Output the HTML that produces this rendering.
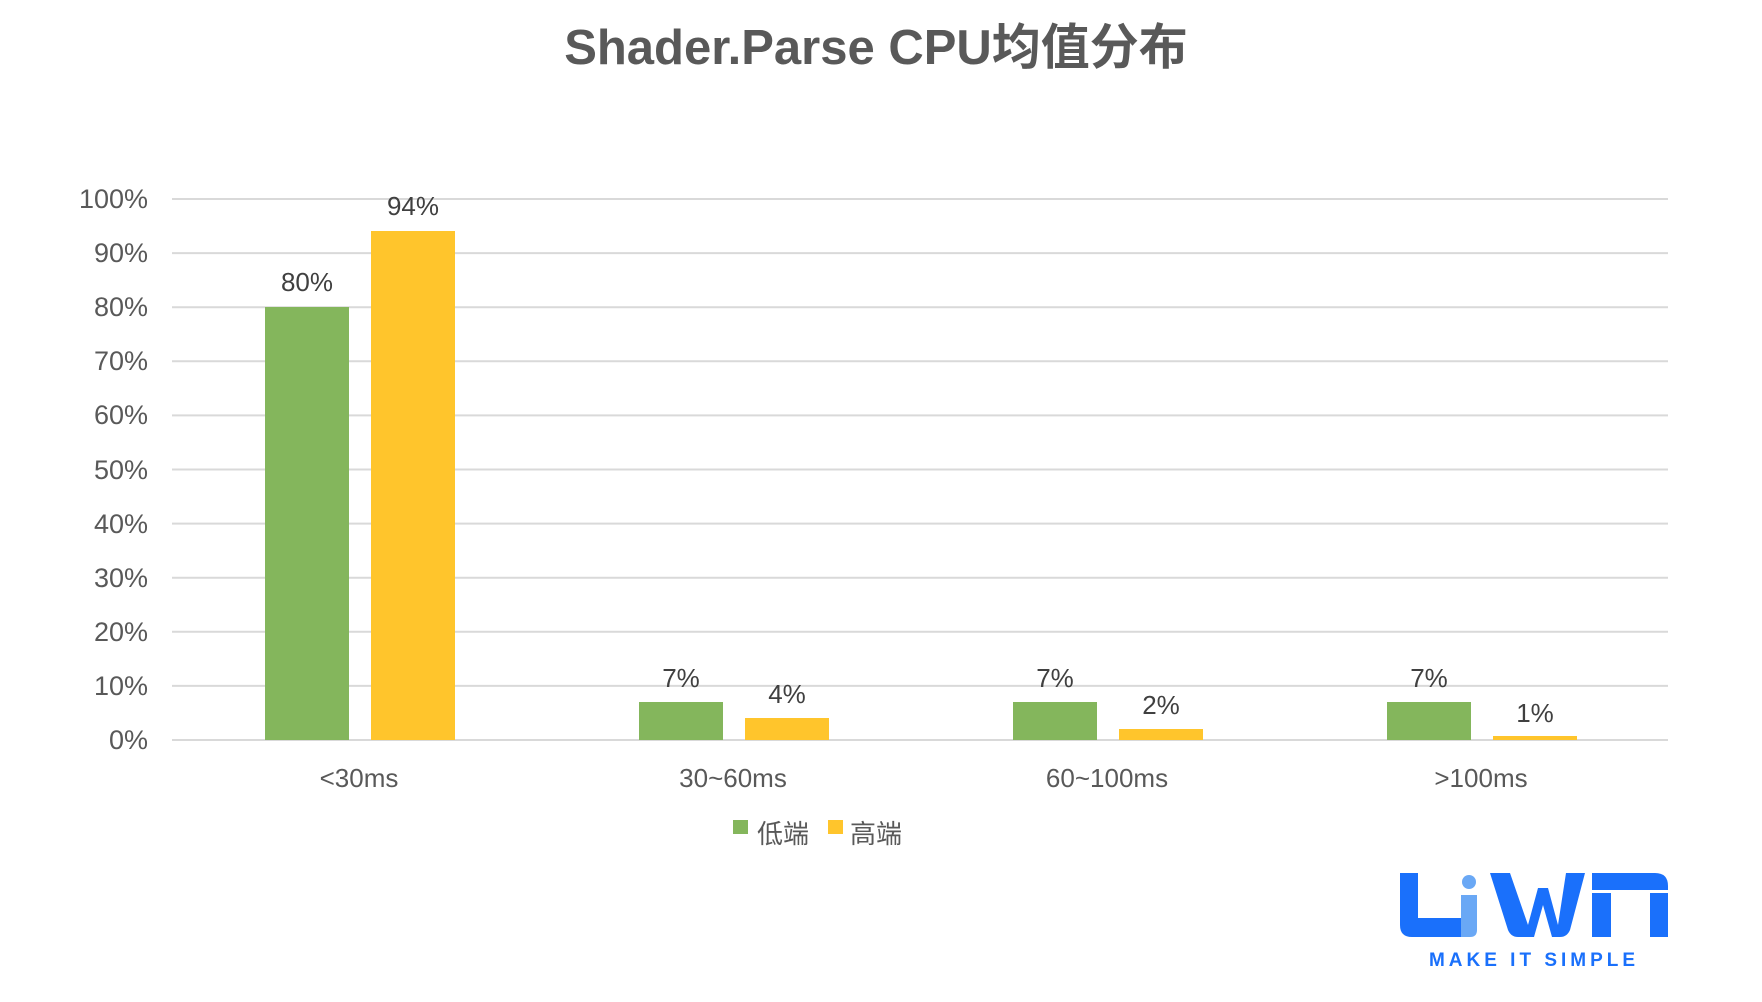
<!DOCTYPE html>
<html><head><meta charset="utf-8"><style>
html,body{margin:0;padding:0;background:#fff;}
svg{display:block;}
text{font-family:"Liberation Sans","Noto Sans CJK SC",sans-serif;}
</style></head><body>
<svg width="1762" height="1002" viewBox="0 0 1762 1002" xmlns="http://www.w3.org/2000/svg">
<rect width="1762" height="1002" fill="#fff"/>
<text x="876" y="64" text-anchor="middle" font-size="49" font-weight="bold" fill="#595959">Shader.Parse CPU均值分布</text>
<g stroke="#d9d9d9" stroke-width="2">
<line x1="172" x2="1668" y1="199" y2="199"/>
<line x1="172" x2="1668" y1="253.1" y2="253.1"/>
<line x1="172" x2="1668" y1="307.2" y2="307.2"/>
<line x1="172" x2="1668" y1="361.3" y2="361.3"/>
<line x1="172" x2="1668" y1="415.4" y2="415.4"/>
<line x1="172" x2="1668" y1="469.5" y2="469.5"/>
<line x1="172" x2="1668" y1="523.6" y2="523.6"/>
<line x1="172" x2="1668" y1="577.7" y2="577.7"/>
<line x1="172" x2="1668" y1="631.8" y2="631.8"/>
<line x1="172" x2="1668" y1="685.9" y2="685.9"/>
<line x1="172" x2="1668" y1="740" y2="740"/>
</g>
<g font-size="27" fill="#595959" text-anchor="end">
<text x="148" y="208">100%</text>
<text x="148" y="262">90%</text>
<text x="148" y="316">80%</text>
<text x="148" y="370">70%</text>
<text x="148" y="424">60%</text>
<text x="148" y="479">50%</text>
<text x="148" y="533">40%</text>
<text x="148" y="587">30%</text>
<text x="148" y="641">20%</text>
<text x="148" y="695">10%</text>
<text x="148" y="749">0%</text>
</g>
<g fill="#84b65c">
<rect x="265" y="307" width="84" height="433"/>
<rect x="639" y="702" width="84" height="38"/>
<rect x="1013" y="702" width="84" height="38"/>
<rect x="1387" y="702" width="84" height="38"/>
</g>
<g fill="#ffc52c">
<rect x="371" y="231" width="84" height="509"/>
<rect x="745" y="718" width="84" height="22"/>
<rect x="1119" y="729" width="84" height="11"/>
<rect x="1493" y="736" width="84" height="4"/>
</g>
<g font-size="26" fill="#404040" text-anchor="middle">
<text x="307" y="291">80%</text>
<text x="413" y="215">94%</text>
<text x="681" y="687">7%</text>
<text x="787" y="703">4%</text>
<text x="1055" y="687">7%</text>
<text x="1161" y="714">2%</text>
<text x="1429" y="687">7%</text>
<text x="1535" y="722">1%</text>
</g>
<g font-size="26" fill="#595959" text-anchor="middle">
<text x="359" y="787">&lt;30ms</text>
<text x="733" y="787">30~60ms</text>
<text x="1107" y="787">60~100ms</text>
<text x="1481" y="787">&gt;100ms</text>
</g>
<rect x="733" y="820" width="15" height="14" fill="#84b65c"/>
<text x="757" y="843" font-size="26" fill="#595959">低端</text>
<rect x="828" y="820" width="15" height="14" fill="#ffc52c"/>
<text x="850" y="843" font-size="26" fill="#595959">高端</text>
<g fill="#1a70fb">
<path d="M1400 873 H1418 V918 H1470 V937 H1412 Q1400 937 1400 925 Z"/>
<path d="M1490 873 H1510 L1528 925 L1538 888 H1548 L1558 925 L1566 873 H1585 L1570 930 Q1567 937 1560 937 H1552 L1543 905 L1534 937 H1518 Q1511 937 1508 930 Z"/>
<path d="M1592 873 H1655 Q1668 873 1668 886 V937 H1650 V893 H1611 V937 H1592 Z"/>
</g>
<rect x="1592" y="890" width="76" height="3" fill="#fff"/>
<circle cx="1469" cy="882" r="7" fill="#6aa8f5"/>
<path d="M1461 895 H1477 V930 Q1477 937 1470 937 H1461 Z" fill="#6aa8f5"/>
<text x="1534" y="966" font-size="19" font-weight="bold" fill="#1a70fb" text-anchor="middle" letter-spacing="4">MAKE IT SIMPLE</text>
</svg>
</body></html>
